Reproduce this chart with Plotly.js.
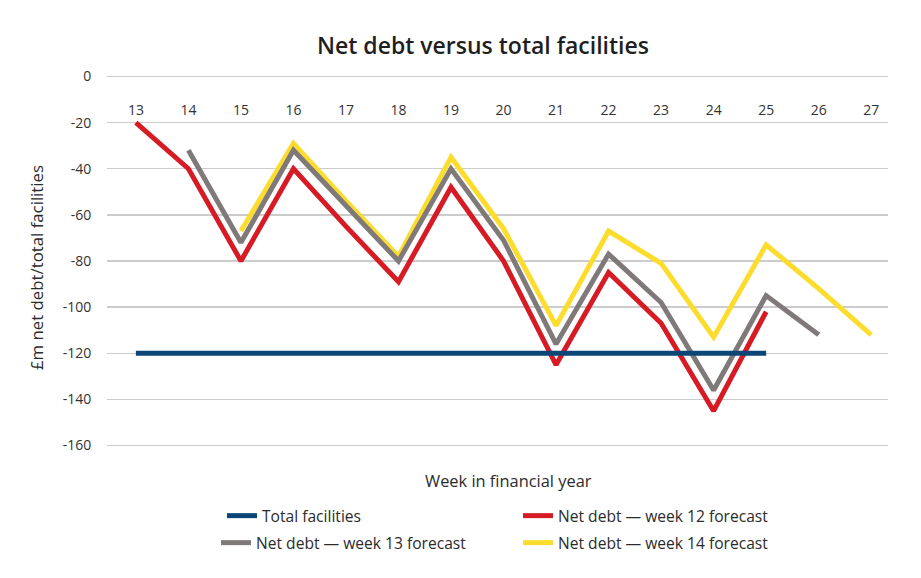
<!DOCTYPE html>
<html>
<head>
<meta charset="utf-8">
<script src="https://cdn.plot.ly/plotly-3.0.1.min.js"></script>
<style>html,body{margin:0;padding:0;background:#fff;}#chart{width:921px;height:578px;}</style>
</head>
<body>
<div id="chart"></div>
<script>
const weeks = [13,14,15,16,17,18,19,20,21,22,23,24,25,26,27];
const facilityWeeks = [13,14,15,16,17,18,19,20,21,22,23,24,25];
const totalFacilities = [-120,-120,-120,-120,-120,-120,-120,-120,-120,-120,-120,-120,-120];
const week12Weeks = [13,14,15,16,17,18,19,20,21,22,23,24,25];
const week12Forecast = [-20,-40,-80,-40,-65,-89,-48,-80,-125,-85,-107,-145,-102];
const week13Weeks = [14,15,16,17,18,19,20,21,22,23,24,25,26];
const week13Forecast = [-32,-72,-32,-56,-80,-40,-71,-116,-77,-98,-136,-95,-112];
const week14Weeks = [15,16,17,18,19,20,21,22,23,24,25,26,27];
const week14Forecast = [-67,-29,-54,-78,-35,-66,-108,-67,-81,-113,-73,-92,-112];
const yTicks = [0,-20,-40,-60,-80,-100,-120,-140,-160];

const font = "'Open Sans', sans-serif";
const traces = [
  {x: week14Weeks, y: week14Forecast, name: 'Net debt — week 14 forecast', mode: 'lines',
   line: {color: '#fcdc2c', width: 5}, legend: 'legend4'},
  {x: week13Weeks, y: week13Forecast, name: 'Net debt — week 13 forecast', mode: 'lines',
   line: {color: '#7f7a79', width: 5}, legend: 'legend3'},
  {x: week12Weeks, y: week12Forecast, name: 'Net debt — week 12 forecast', mode: 'lines',
   line: {color: '#d71b24', width: 5}, legend: 'legend2'},
  {x: facilityWeeks, y: totalFacilities, name: 'Total facilities', mode: 'lines',
   line: {color: '#0b4677', width: 5}, legend: 'legend'}
];

function leg(x, y) {
  return {x: x, y: y, xref: 'container', yref: 'container', xanchor: 'left', yanchor: 'middle',
    font: {family: font, size: 15.6, color: '#2b2b2b'}, bgcolor: 'rgba(0,0,0,0)', itemwidth: 30};
}

// plot area: left 107, right 888, top 72.5, bottom 449.5 (y range padded so 0 -> 76, -160 -> 446)
const L = 107, R = 888, T = 72.5, B = 449.5;
const px = v => (v - L) / (R - L);
const py = v => (B - v) / (B - T);

const layout = {
  width: 921, height: 578,
  margin: {l: L, r: 921 - R, t: T, b: 578 - B, autoexpand: false},
  paper_bgcolor: '#fff', plot_bgcolor: '#fff',
  font: {family: font, color: '#333'},
  title: {text: 'Net debt versus total facilities', x: 483/921, xref: 'container', xanchor: 'center',
    y: 1 - 46/578, yref: 'container', yanchor: 'middle',
    font: {family: font, size: 23, color: '#1f1f1f', weight: 600}},
  xaxis: {range: [12.45, 27.32], tickvals: weeks, ticktext: weeks.map(String),
    side: 'bottom', anchor: 'free', position: py(100), ticks: '',
    showgrid: false, zeroline: false, showline: false, automargin: false,
    tickfont: {family: font, size: 14, color: '#333'}},
  yaxis: {range: [-161.5, 1.5], tickvals: yTicks, ticktext: yTicks.map(String),
    showgrid: true, gridcolor: '#cccccc', gridwidth: 1.5,
    zeroline: true, zerolinecolor: '#cccccc', zerolinewidth: 1.5, showline: false,
    ticks: 'outside', ticklen: 12, tickcolor: 'rgba(0,0,0,0)', automargin: false,
    tickfont: {family: font, size: 14, color: '#333'}},
  showlegend: true,
  legend: leg(222/921, 1 - 516/578),
  legend2: leg(518/921, 1 - 516/578),
  legend3: leg(216/921, 1 - 543/578),
  legend4: leg(518/921, 1 - 543/578),
  annotations: [
    {text: 'Week in financial year', xref: 'paper', yref: 'paper',
     x: px(508), y: py(481), xanchor: 'center', yanchor: 'middle', showarrow: false,
     font: {family: font, size: 16.4, color: '#2b2b2b'}},
    {text: '£m net debt/total facilities', xref: 'paper', yref: 'paper',
     x: px(37), y: py(268), xanchor: 'center', yanchor: 'middle', textangle: -90, showarrow: false,
     font: {family: font, size: 16.8, color: '#2b2b2b'}}
  ]
};

Plotly.newPlot('chart', traces, layout, {displayModeBar: false, staticPlot: true});
</script>
</body>
</html>
